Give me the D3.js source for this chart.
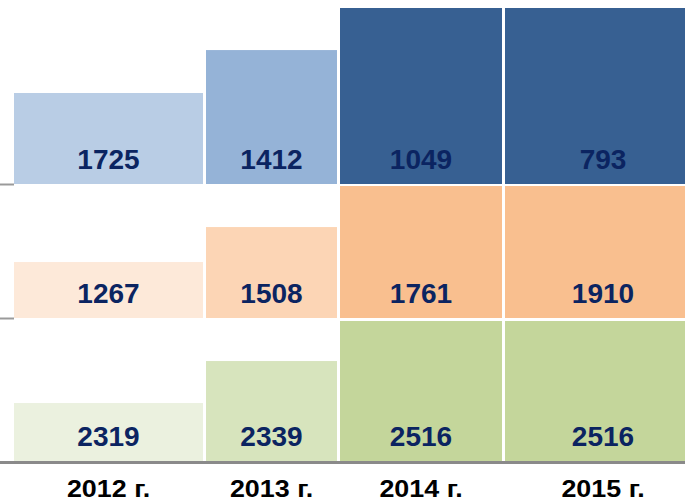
<!DOCTYPE html>
<html>
<head>
<meta charset="utf-8">
<script src="https://cdn.jsdelivr.net/npm/d3@7"></script>
<style>
  html, body { margin: 0; padding: 0; background: #fff; }
  svg { display: block; }
  text { font-family: Arial, "Liberation Sans", sans-serif; font-weight: bold; }
</style>
</head>
<body>
<svg id="chart" width="685" height="501"></svg>
<script>
// ---- data ----
const years = ["2012 г.", "2013 г.", "2014 г.", "2015 г."];
const seriesBlueValues   = [1725, 1412, 1049, 793];
const seriesOrangeValues = [1267, 1508, 1761, 1910];
const seriesGreenValues  = [2319, 2339, 2516, 2516];
// relative bar heights (share of panel height)
const seriesBlueLevels   = [0.517, 0.761, 1, 1];
const seriesOrangeLevels = [0.424, 0.689, 1, 1];
const seriesGreenLevels  = [0.414, 0.714, 1, 1];

// ---- layout ----
const W = 685, H = 501;
const svg = d3.select("#chart");

const xLeft  = d3.scaleOrdinal().domain(years).range([14, 206, 340, 505]);
const xRight = d3.scaleOrdinal().domain(years).range([203, 337, 502, 701]);
const xMid = d => (xLeft(d) + xRight(d)) / 2;

const panels = [
  { values: seriesBlueValues,   levels: seriesBlueLevels,   base: 184, top: 8,
    colors: ["#b9cde5", "#95b3d7", "#376092", "#376092"] },
  { values: seriesOrangeValues, levels: seriesOrangeLevels, base: 318, top: 186,
    colors: ["#fde9d9", "#fcd5b5", "#f9bf8f", "#f9bf8f"] },
  { values: seriesGreenValues,  levels: seriesGreenLevels,  base: 461, top: 321,
    colors: ["#ebf1df", "#d7e4bd", "#c4d69b", "#c4d69b"] }
];

panels.forEach((p, pi) => {
  const y = d3.scaleLinear().domain([0, 1]).range([p.base, p.top]);
  const g = svg.append("g");
  const rows = years.map((yr, i) => ({ yr, v: p.values[i], l: p.levels[i], c: p.colors[i] }));
  g.selectAll("rect").data(rows).join("rect")
    .attr("x", d => xLeft(d.yr))
    .attr("width", d => xRight(d.yr) - xLeft(d.yr))
    .attr("y", d => y(d.l))
    .attr("height", d => y(0) - y(d.l))
    .attr("fill", d => d.c);
  g.selectAll("text").data(rows).join("text")
    .attr("x", d => xMid(d.yr))
    .attr("y", y(0) - 15)
    .attr("text-anchor", "middle")
    .attr("font-size", 28)
    .attr("fill", "#0b2461")
    .text(d => d.v);
  if (pi < 2) {
    svg.append("line")
      .attr("x1", 0).attr("x2", 14)
      .attr("y1", p.base + 0.5).attr("y2", p.base + 0.5)
      .attr("stroke", "#9a9a9a").attr("stroke-width", 2);
  }
});

// bottom axis line
svg.append("line")
  .attr("x1", 0).attr("x2", W)
  .attr("y1", 462.5).attr("y2", 462.5)
  .attr("stroke", "#8a8a8a").attr("stroke-width", 3);

// year labels
svg.append("g").selectAll("text").data(years).join("text")
  .attr("transform", d => `translate(${xMid(d)},497) scale(1.12,1)`)
  .attr("text-anchor", "middle")
  .attr("font-size", 24)
  .attr("fill", "#000")
  .text(d => d);
</script>
</body>
</html>
